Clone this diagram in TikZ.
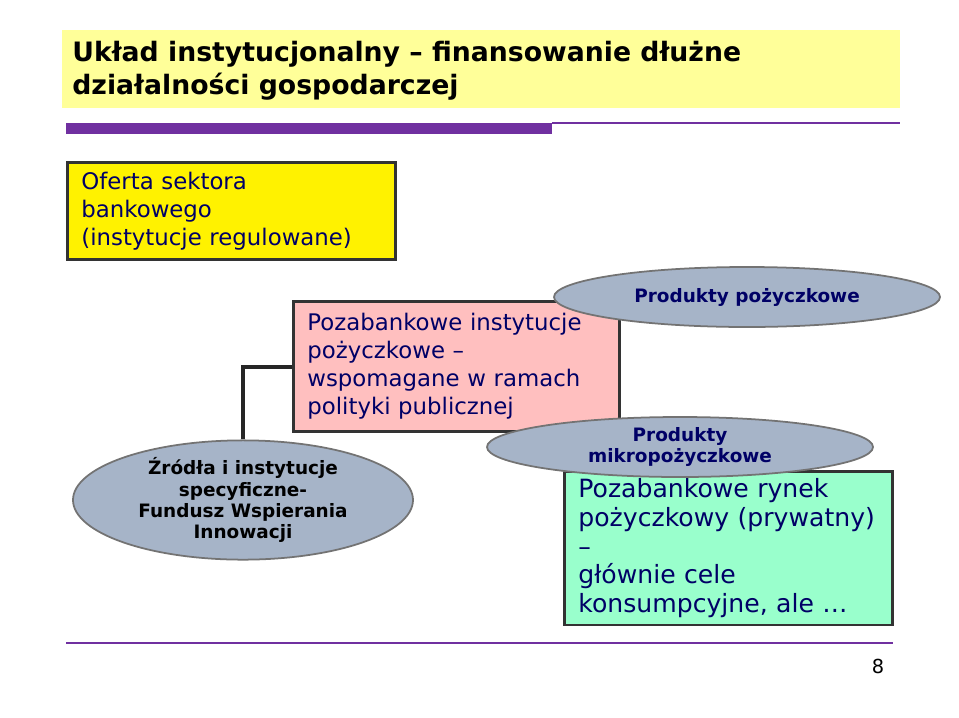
\documentclass[tikz,border=0pt]{standalone}
\usepackage{fontspec}
\setmainfont{DejaVu Sans}
\usetikzlibrary{shapes.geometric}
\definecolor{navy}{HTML}{000066}
\definecolor{slide_purple}{HTML}{7030A0}
\definecolor{title_yellow}{HTML}{FFFF99}
\definecolor{oval_grey}{HTML}{A6B4C8}
\definecolor{box_pink}{HTML}{FFBFBF}
\definecolor{box_green}{HTML}{99FFCC}
\tikzset{
    textbox/.style={draw=black!80, line width=1.5pt, inner xsep=8pt, inner ysep=4pt, text=navy,
        align=left, anchor=north west, font=\fontsize{13}{15.9}\selectfont},
    oval/.style={ellipse, draw=black!55, line width=1pt, fill=oval_grey,
        font=\bfseries\fontsize{10.5}{12}\selectfont, align=center, inner sep=0pt}
}
\begin{document}
\begin{tikzpicture}[x=0.02cm, y=-0.02cm]
    \useasboundingbox[fill=white] (0,0) rectangle (959,717);
    %\draw[help lines] (0,0) grid (959,717);
    \path[fill=title_yellow] (62,30) rectangle (900,108);
    \node[anchor=west, align=left, inner sep=0pt, font=\bfseries\fontsize{15.2}{18.7}\selectfont]
        (title) at (72,71) {Układ instytucjonalny – finansowanie dłużne\\działalności gospodarczej};
    \path[fill=slide_purple] (66,123) rectangle (552,134);
    \draw[slide_purple, line width=1pt] (552,123) -- (900,123);
    \draw[slide_purple, line width=1pt] (66,643) -- (893,643);
    \node[font=\fontsize{11}{12}\selectfont] (page) at (878,666) {8};

    \node[textbox, fill=yellow, minimum height=97*0.02cm, text width=300*0.02cm] (bank) at (66,161)
        {Oferta sektora\\bankowego\\(instytucje regulowane)};
    \node[textbox, fill=box_pink, minimum height=130*0.02cm, text width=298*0.02cm] (public) at (292,300)
        {Pozabankowe instytucje\\pożyczkowe –\\wspomagane w ramach\\polityki publicznej};
    \node[textbox, fill=box_green, minimum height=126*0.02cm, text width=300*0.02cm,
        font=\fontsize{14.3}{16.4}\selectfont] (private) at (563,470)
        {Pozabankowe rynek\\pożyczkowy (prywatny) –\\głównie cele\\konsumpcyjne, ale …};

    \node[oval, minimum width=340*0.02cm, minimum height=114*0.02cm] (fund) at (243,500)
        {Źródła i instytucje\\specyficzne-\\Fundusz Wspierania\\Innowacji};
    \node[oval, text=navy, minimum width=386*0.02cm, minimum height=60*0.02cm] (loans) at (747,297)
        {Produkty pożyczkowe};
    \node[oval, text=navy, minimum width=386*0.02cm, minimum height=60*0.02cm] (micro) at (680,447)
        {Produkty\\mikropożyczkowe};

    \draw[line width=2pt, black!85] (public.west |- 0,367) -- (243,367) -- (fund.north);
\end{tikzpicture}
\end{document}
